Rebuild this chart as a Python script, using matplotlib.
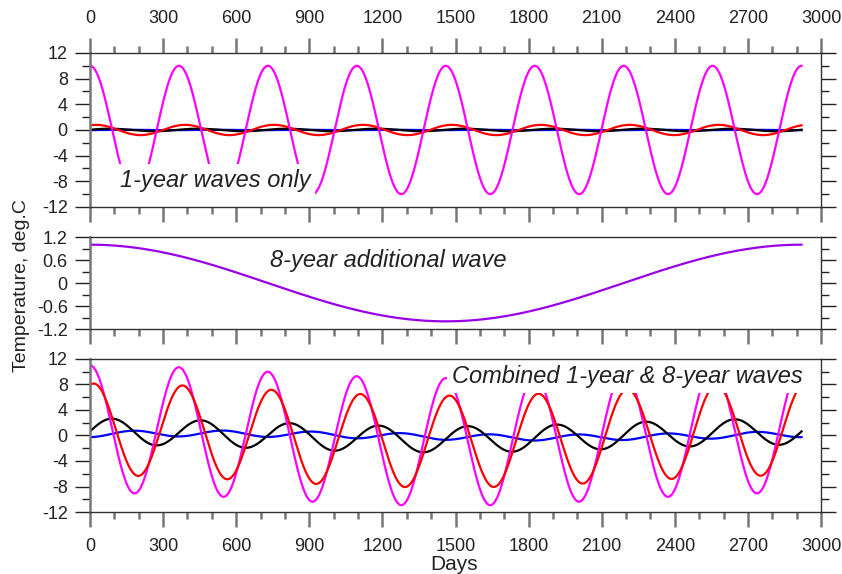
import numpy as np
import matplotlib
matplotlib.use("Agg")
import matplotlib.pyplot as plt
from matplotlib.ticker import MultipleLocator

plt.rcParams["font.family"] = ["Liberation Sans", "DejaVu Sans"]
plt.rcParams["axes.unicode_minus"] = False

# time axis (days) and wave periods
day_start = 0
day_end = 2920
period_1y = 365
period_8y = 2920

line_colors = ["#ff00ff", "#ff0000", "#000000", "#0000ff"]

# top panel: 1-year waves only (amplitude deg.C, lag days)
top_amp_1y = [10.0, 0.8, 0.2, 0.03]
top_lag_1y = [0, 25, 80, 150]

# middle panel: 8-year additional wave
mid_amp_8y = 1.0
mid_lag_8y = 0

# bottom panel: combined 1-year & 8-year waves
bot_amp_1y = [10.0, 7.2, 2.05, 0.47]
bot_lag_1y = [0, 15, 90, 180]
bot_amp_8y = [1.0, 0.95, 0.6, 0.32]
bot_lag_8y = [0, 0, 0, 400]

x_ticks = list(range(0, 3001, 300))
big_y_ticks = [-12, -8, -4, 0, 4, 8, 12]
small_y_ticks = [-1.2, -0.6, 0, 0.6, 1.2]

t = np.linspace(day_start, day_end, 1500)


def wave(amp, lag, period):
    return amp * np.cos(2 * np.pi * (t - lag) / period)


def style_axes(ax, yticks, yminor, top_labels=False, bottom_labels=False, top_ticks=False):
    ax.set_xlim(0, 3000)
    ax.set_ylim(yticks[0], yticks[-1])
    ax.set_xticks(x_ticks)
    ax.xaxis.set_minor_locator(MultipleLocator(100))
    ax.set_yticks(yticks)
    ax.yaxis.set_minor_locator(MultipleLocator(yminor))
    ax.set_yticklabels([f"{v:g}" for v in yticks])

    ax.tick_params(axis="x", which="both", direction="out", colors="#777777",
                   labelcolor="#222222", width=1.8, labelsize=13, pad=8,
                   top=top_ticks, bottom=True, labeltop=top_labels,
                   labelbottom=bottom_labels)
    ax.tick_params(axis="x", which="major", length=11)
    ax.tick_params(axis="x", which="minor", length=5)
    ax.tick_params(axis="y", which="both", direction="out", colors="#222222",
                   width=1.0, labelsize=13, pad=5, left=True, right=True,
                   labelleft=True, labelright=False)
    ax.tick_params(axis="y", which="major", length=11)
    ax.tick_params(axis="y", which="minor", length=6)

    for side in ["top", "bottom", "right"]:
        ax.spines[side].set_color("#333333")
        ax.spines[side].set_linewidth(1.0)
    ax.spines["left"].set_color("#777777")
    ax.spines["left"].set_linewidth(1.8)


fig = plt.figure(figsize=(8.42, 5.74), dpi=100)
ax1 = fig.add_axes([0.1069, 0.6394, 0.8682, 0.2683])
ax2 = fig.add_axes([0.1069, 0.4268, 0.8682, 0.1603])
ax3 = fig.add_axes([0.1069, 0.1080, 0.8682, 0.2666])

text_box = dict(boxstyle="square,pad=0.2", facecolor="white", edgecolor="none")

# top panel
for amp, lag, col in zip(top_amp_1y[::-1], top_lag_1y[::-1], line_colors[::-1]):
    ax1.plot(t, wave(amp, lag, period_1y), color=col, lw=1.6, zorder=2)
style_axes(ax1, big_y_ticks, 2, top_labels=True, top_ticks=True)
ax1.text(123, -7.8, "1-year waves only", style="italic", fontsize=17,
         color="#222222", ha="left", va="center", bbox=text_box, zorder=2.2)

# middle panel
ax2.plot(t, wave(mid_amp_8y, mid_lag_8y, period_8y), color="#9a00e6", lw=1.6)
style_axes(ax2, small_y_ticks, 0.3)
ax2.text(739, 0.6, "8-year additional wave", style="italic", fontsize=17,
         color="#222222", ha="left", va="center", zorder=2.2)

# bottom panel
order = [3, 2, 0, 1]
for i in order:
    y = wave(bot_amp_1y[i], bot_lag_1y[i], period_1y) + wave(bot_amp_8y[i], bot_lag_8y[i], period_8y)
    ax3.plot(t, y, color=line_colors[i], lw=1.6, zorder=2)
style_axes(ax3, big_y_ticks, 2, bottom_labels=True)
ax3.text(1485, 9.2, "Combined 1-year & 8-year waves", style="italic", fontsize=17,
         color="#222222", ha="left", va="center", bbox=text_box, zorder=2.2)

fig.text(0.025, 0.503, "Temperature, deg.C", rotation=90, fontsize=14,
         color="#222222", ha="center", va="center")
fig.text(0.539, 0.0, "Days", fontsize=15, color="#222222", ha="center", va="bottom")

fig.savefig("out.png", dpi=100)
